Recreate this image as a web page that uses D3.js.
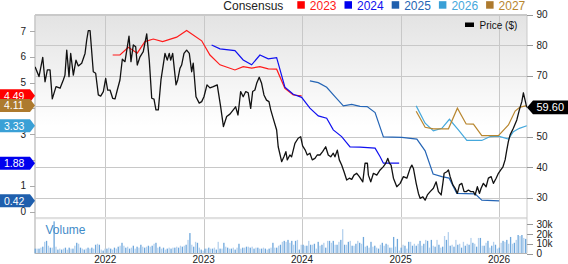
<!DOCTYPE html>
<html>
<head>
<meta charset="utf-8">
<script src="https://cdn.jsdelivr.net/npm/d3@7"></script>
<style>
  body { margin: 0; background: #fff; }
  svg { display: block; font-family: "Liberation Sans", Arial, sans-serif; }
</style>
</head>
<body>
<svg id="chart" width="568" height="264"></svg>
<script>
// ---- data (dates as decimal years, price in $, EPS in $/share, volume in thousands) ----
const price = [
  [2021.286,72.9],[2021.326,69.7],[2021.364,76.0],[2021.387,68.0],[2021.411,71.9],[2021.438,71.9],
  [2021.461,62.4],[2021.499,66.4],[2021.540,65.9],[2021.573,68.6],[2021.590,70.2],[2021.608,78.4],
  [2021.631,69.7],[2021.648,77.3],[2021.675,70.2],[2021.702,75.1],[2021.726,73.2],[2021.760,74.1],
  [2021.794,77.3],[2021.811,81.7],[2021.827,84.8],[2021.845,84.8],[2021.878,71.3],[2021.902,70.8],
  [2021.929,63.7],[2021.953,63.3],[2021.980,64.8],[2022.004,69.1],[2022.024,65.3],[2022.048,65.3],
  [2022.075,62.6],[2022.099,62.4],[2022.122,65.3],[2022.149,68.6],[2022.173,75.4],[2022.200,74.6],
  [2022.241,83.0],[2022.261,74.6],[2022.285,80.1],[2022.309,79.5],[2022.325,73.5],[2022.353,76.2],
  [2022.386,77.9],[2022.421,83.7],[2022.447,75.1],[2022.472,62.6],[2022.495,62.3],[2022.515,58.8],
  [2022.539,58.8],[2022.566,68.6],[2022.607,77.3],[2022.630,75.1],[2022.650,77.3],[2022.665,75.1],
  [2022.685,77.3],[2022.719,67.0],[2022.736,68.6],[2022.759,72.4],[2022.776,73.5],[2022.800,77.3],
  [2022.827,78.4],[2022.854,77.3],[2022.878,71.3],[2022.894,74.1],[2022.922,63.1],[2022.955,61.0],
  [2022.980,61.5],[2023.003,63.1],[2023.034,67.0],[2023.064,66.0],[2023.098,66.4],[2023.138,67.0],
  [2023.173,59.8],[2023.201,53.3],[2023.234,56.6],[2023.267,57.4],[2023.301,58.8],[2023.325,59.8],
  [2023.349,57.1],[2023.376,64.8],[2023.402,63.1],[2023.428,64.8],[2023.453,64.4],[2023.478,59.3],
  [2023.498,64.8],[2023.521,65.3],[2023.539,67.5],[2023.565,69.5],[2023.589,67.5],[2023.613,63.7],
  [2023.639,62.0],[2023.664,61.5],[2023.682,58.8],[2023.707,56.0],[2023.742,52.2],[2023.758,46.7],
  [2023.793,41.8],[2023.816,43.4],[2023.836,45.1],[2023.850,42.4],[2023.877,44.0],[2023.894,43.4],
  [2023.928,47.8],[2023.961,49.5],[2023.986,50.0],[2024.006,47.0],[2024.033,45.6],[2024.053,44.0],
  [2024.080,44.6],[2024.104,42.4],[2024.131,42.9],[2024.154,44.0],[2024.182,44.0],[2024.209,45.1],
  [2024.240,46.7],[2024.266,44.0],[2024.291,43.4],[2024.317,44.6],[2024.334,43.4],[2024.358,45.6],
  [2024.378,42.4],[2024.402,40.7],[2024.426,38.5],[2024.453,35.8],[2024.480,36.4],[2024.504,36.0],
  [2024.527,37.4],[2024.555,38.0],[2024.581,36.9],[2024.616,35.2],[2024.639,41.3],[2024.663,41.3],
  [2024.673,37.4],[2024.697,35.2],[2024.724,38.0],[2024.758,37.4],[2024.792,39.1],[2024.825,40.2],
  [2024.850,41.3],[2024.870,42.9],[2024.886,41.3],[2024.903,40.7],[2024.927,36.4],[2024.961,33.6],
  [2024.995,34.7],[2025.028,36.9],[2025.063,36.4],[2025.097,39.7],[2025.114,40.7],[2025.130,39.6],
  [2025.158,34.7],[2025.181,31.4],[2025.198,29.8],[2025.226,30.3],[2025.249,29.2],[2025.272,30.9],
  [2025.300,32.0],[2025.333,33.1],[2025.361,35.2],[2025.384,32.0],[2025.412,30.9],[2025.429,34.7],
  [2025.442,38.0],[2025.470,38.5],[2025.486,39.1],[2025.503,36.9],[2025.531,34.2],[2025.554,33.1],
  [2025.577,31.4],[2025.598,34.2],[2025.622,34.7],[2025.645,32.0],[2025.666,32.0],[2025.689,32.5],
  [2025.713,32.0],[2025.740,32.0],[2025.757,30.9],[2025.780,33.6],[2025.801,31.4],[2025.818,33.1],
  [2025.841,34.7],[2025.869,33.6],[2025.892,36.4],[2025.920,36.9],[2025.943,34.7],[2025.971,36.4],
  [2025.994,38.0],[2026.018,39.1],[2026.039,40.0],[2026.062,42.4],[2026.079,45.6],[2026.095,48.4],
  [2026.113,50.6],[2026.146,52.8],[2026.181,55.5],[2026.207,58.8],[2026.232,61.5],[2026.248,64.4],
  [2026.265,62.0],[2026.282,59.6]
];

const eps2023 = [
  [2022.075,6.07],[2022.149,6.07],[2022.234,6.37],[2022.325,6.14],[2022.403,6.59],[2022.488,6.69],
  [2022.583,6.59],[2022.726,6.76],[2022.827,7.02],[2022.980,6.62],[2023.064,6.07],[2023.166,5.69],
  [2023.318,5.49],[2023.402,5.62],[2023.488,5.56],[2023.572,5.62],[2023.657,5.53],[2023.742,5.52],
  [2023.826,4.78],[2023.911,4.52],[2023.996,4.49]
];
const eps2024 = [
  [2023.081,6.46],[2023.166,6.31],[2023.318,6.24],[2023.402,5.88],[2023.488,5.69],[2023.572,6.07],
  [2023.657,5.92],[2023.742,5.97],[2023.826,4.82],[2023.911,4.55],[2023.996,4.43],[2024.080,4.01],
  [2024.165,3.71],[2024.250,3.62],[2024.317,3.17],[2024.402,2.91],[2024.487,2.51],[2024.588,2.50],
  [2024.741,2.46],[2024.792,2.13],[2024.825,1.88],[2024.985,1.88]
];
const eps2025 = [
  [2024.080,5.07],[2024.165,5.00],[2024.250,4.82],[2024.334,4.46],[2024.419,4.10],[2024.504,4.16],
  [2024.588,4.08],[2024.660,4.07],[2024.741,3.84],[2024.825,2.90],[2025.012,2.88],[2025.165,2.81],
  [2025.249,2.36],[2025.330,1.46],[2025.419,1.36],[2025.493,1.30],[2025.571,0.71],[2025.757,0.69],
  [2025.825,0.45],[2026.001,0.42]
];
const eps2026 = [
  [2025.158,4.10],[2025.249,3.43],[2025.333,3.13],[2025.419,3.23],[2025.496,3.58],[2025.587,3.17],
  [2025.673,2.76],[2025.825,2.76],[2025.910,2.91],[2025.994,2.93],[2026.096,2.81],[2026.146,3.10],
  [2026.207,3.23],[2026.283,3.33]
];
const eps2027 = [
  [2025.158,3.89],[2025.249,3.27],[2025.333,3.21],[2025.486,3.21],[2025.577,4.01],[2025.666,3.40],
  [2025.740,3.39],[2025.825,2.95],[2025.994,2.95],[2026.096,3.36],[2026.164,3.90],[2026.214,4.05],
  [2026.283,4.11]
];

// weekly volume, thousands of shares, first week starting 2021-04-16
const volumeStart = "2021-04-16";
const volume = [
  5,5,5,6,7,12,13,8,6,6,33,7,4,5,4,5,6,4,6,5,5,8,11,10,6,5,4,5,6,5,6,5,9,10,9,4,3,5,
  5,6,5,4,6,5,7,8,11,8,6,7,5,6,8,5,7,6,9,7,6,7,8,7,8,10,11,6,7,5,6,4,5,6,5,
  6,6,7,6,8,7,8,9,14,21,9,7,12,
  11,6,4,3,5,5,6,5,5,6,4,12,5,5,11,7,6,5,5,6,4,6,10,5,6,6,7,7,6,7,
  5,6,6,5,5,6,5,4,5,6,11,6,6,8,9,12,13,12,14,11,13,9,13,14,4,
  9,9,8,8,13,9,9,10,5,12,8,9,11,6,13,13,11,13,9,9,12,14,25,9,9,12,13,8,8,10,13,11,10,
  17,7,8,6,12,7,8,6,5,9,11,8,10,9,6,6,17,7,15,3,6,9,8,5,12,12,8,10,8,10,
  13,8,10,14,13,6,14,8,7,14,9,6,7,18,14,22,8,9,7,14,9,10,6,12,8,10,9,16,11,10,
  7,16,16,8,8,11,13,6,8,12,9,5,6,11,13,12,14,10,17,10,11,14,19,18,19,16,15
];

const seriesNames = ["2023", "2024", "2025", "2026", "2027"];
const seriesData = [eps2023, eps2024, eps2025, eps2026, eps2027];
const seriesLast = [4.49, 1.88, 0.42, 3.33, 4.11];
const lastPrice = 59.60;

const yearTicks = [2022, 2023, 2024, 2025, 2026];
const priceTicks = [30, 40, 50, 60, 70, 80, 90];
const epsTicks = [0, 1, 2, 3, 4, 5, 6, 7];
const volumeTicks = [0, 10, 20, 30];

// ---- styles ----
const colors = ["#ff1a1a", "#1010f0", "#2565b5", "#45a8dc", "#b8862f"];
const badgeColors = ["#ff0000", "#0000ee", "#1f5fad", "#3aa0d6", "#ad7a2e"];

const plotLeft = 35, plotRight = 527, plotTop = 15, priceBottom = 217, volBottom = 253.5;
const badgeHalf = 6.5;

function yearToDate(t) {
  const y = Math.floor(t);
  const a = new Date(y, 0, 1), b = new Date(y + 1, 0, 1);
  return new Date(+a + (t - y) * (b - a));
}

const x = d3.scaleTime()
  .domain([new Date(2022, 0, 1), new Date(2026, 0, 1)])
  .range([105.3, 499]);
const yPrice = d3.scaleLinear().domain([30, 90]).range([197.7, 14.7]);
const yEps = d3.scaleLinear().domain([0, 7]).range([211.7, 31]);
const yVol = d3.scaleLinear().domain([0, 30]).range([volBottom, 224.3]);

// labels that sit fully under a badge are not drawn (they are hidden in the original)
const hiddenBy = (y, centers) => centers.some(c => Math.abs(c - y) < badgeHalf - 2);
const epsBadgeY = seriesLast.map(v => yEps(v));

const svg = d3.select("#chart");
const defs = svg.append("defs");

const grad = defs.append("linearGradient")
  .attr("id", "bg").attr("x1", 0).attr("y1", 0).attr("x2", 0).attr("y2", 1);
grad.append("stop").attr("offset", "0%").attr("stop-color", "#e3e3e3");
grad.append("stop").attr("offset", "55%").attr("stop-color", "#ffffff");

defs.append("clipPath").attr("id", "clipPrice")
  .append("rect").attr("x", plotLeft).attr("y", plotTop)
  .attr("width", plotRight - plotLeft).attr("height", priceBottom - plotTop);

// background
svg.append("rect").attr("x", plotLeft).attr("y", plotTop)
  .attr("width", plotRight - plotLeft).attr("height", priceBottom - plotTop)
  .attr("fill", "url(#bg)");

// horizontal grid (right price axis)
svg.append("g").selectAll("line")
  .data(priceTicks.slice(0, -1))
  .enter().append("line")
  .attr("x1", plotLeft).attr("x2", plotRight)
  .attr("y1", d => Math.round(yPrice(d)) + 0.5).attr("y2", d => Math.round(yPrice(d)) + 0.5)
  .attr("stroke", "#c8c8c8");

// vertical grid (years)
svg.append("g").selectAll("line")
  .data(yearTicks)
  .enter().append("line")
  .attr("x1", d => Math.round(x(new Date(d, 0, 1))) + 0.5)
  .attr("x2", d => Math.round(x(new Date(d, 0, 1))) + 0.5)
  .attr("y1", plotTop).attr("y2", volBottom)
  .attr("stroke", "#c8c8c8");

// panel separator and borders
svg.append("rect").attr("x", plotLeft).attr("y", priceBottom)
  .attr("width", plotRight - plotLeft).attr("height", 2.2)
  .attr("fill", "#e0e0e0");
svg.append("line").attr("x1", plotLeft).attr("x2", plotRight).attr("y1", plotTop).attr("y2", plotTop)
  .attr("stroke", "#c9c9c9").attr("stroke-width", 2);
svg.append("line").attr("x1", plotLeft).attr("x2", plotLeft).attr("y1", plotTop).attr("y2", volBottom)
  .attr("stroke", "#c9c9c9").attr("stroke-width", 1.6);
svg.append("line").attr("x1", plotRight).attr("x2", plotRight).attr("y1", plotTop).attr("y2", volBottom)
  .attr("stroke", "#c9c9c9");

// volume bars
const start = d3.timeParse("%Y-%m-%d")(volumeStart);
svg.append("g").selectAll("rect")
  .data(volume)
  .enter().append("rect")
  .attr("x", (d, i) => x(d3.timeDay.offset(start, 7 * i)) - 0.65)
  .attr("width", 1.3)
  .attr("y", d => yVol(d))
  .attr("height", d => volBottom - yVol(d))
  .attr("fill", (d, i) => i % 2 ? "#b5d1ee" : "#6ea7dc");

svg.append("line").attr("x1", plotLeft).attr("x2", plotRight).attr("y1", volBottom).attr("y2", volBottom)
  .attr("stroke", "#b4b4b4");

svg.append("text").attr("x", 45.5).attr("y", 233.5)
  .attr("font-size", 12).attr("fill", "#3f8bc9").text("Volume");

// consensus lines
const epsLine = d3.line().x(d => x(yearToDate(d[0]))).y(d => yEps(d[1]));
const plot = svg.append("g").attr("clip-path", "url(#clipPrice)");
seriesData.forEach((s, k) => {
  plot.append("path").datum(s)
    .attr("d", epsLine)
    .attr("fill", "none")
    .attr("stroke", colors[k])
    .attr("stroke-width", 1.2);
});

// price line
const priceLine = d3.line().x(d => x(yearToDate(d[0]))).y(d => yPrice(d[1]));
plot.append("path").datum(price)
  .attr("d", priceLine)
  .attr("fill", "none")
  .attr("stroke", "#111")
  .attr("stroke-width", 1.3)
  .attr("stroke-linejoin", "round");

// left axis (EPS)
const yl = svg.append("g").attr("font-size", 10).attr("fill", "#222");
yl.selectAll("line").data(epsTicks).enter().append("line")
  .attr("x1", 30).attr("x2", plotLeft)
  .attr("y1", d => Math.round(yEps(d)) + 0.5).attr("y2", d => Math.round(yEps(d)) + 0.5)
  .attr("stroke", "#aaa");
yl.selectAll("text").data(epsTicks.filter(d => !hiddenBy(yEps(d), epsBadgeY))).enter().append("text")
  .attr("x", 26).attr("y", d => yEps(d)).attr("dy", "0.36em")
  .attr("text-anchor", "end").text(d => d);

// right axis (price)
const yr = svg.append("g").attr("font-size", 10).attr("fill", "#222");
yr.selectAll("line").data(priceTicks).enter().append("line")
  .attr("x1", plotRight).attr("x2", 533)
  .attr("y1", d => Math.round(yPrice(d)) + 0.5).attr("y2", d => Math.round(yPrice(d)) + 0.5)
  .attr("stroke", "#999");
yr.selectAll("text").data(priceTicks.filter(d => !hiddenBy(yPrice(d), [yPrice(lastPrice)]))).enter().append("text")
  .attr("x", 536.5).attr("y", d => yPrice(d)).attr("dy", "0.36em")
  .text(d => d);

// right axis (volume)
const yv = svg.append("g").attr("font-size", 10).attr("fill", "#222");
yv.selectAll("line").data(volumeTicks).enter().append("line")
  .attr("x1", plotRight).attr("x2", 533)
  .attr("y1", d => Math.round(yVol(d)) + 0.5).attr("y2", d => Math.round(yVol(d)) + 0.5)
  .attr("stroke", "#999");
yv.selectAll("text").data(volumeTicks).enter().append("text")
  .attr("x", 536.5).attr("y", d => yVol(d)).attr("dy", "0.36em")
  .text(d => d === 0 ? "0" : d + "k");

// x axis labels
svg.append("g").attr("font-size", 10).attr("fill", "#222")
  .selectAll("text").data(yearTicks).enter().append("text")
  .attr("x", d => x(new Date(d, 0, 1)))
  .attr("y", 263)
  .attr("text-anchor", "middle")
  .text(d => d);

// left badges with the latest consensus values
seriesLast.forEach((v, k) => {
  const cy = yEps(v);
  const g = svg.append("g");
  g.append("path")
    .attr("d", `M0,${cy - badgeHalf}H30L35,${cy}L30,${cy + badgeHalf}H0Z`)
    .attr("fill", badgeColors[k]);
  g.append("text").attr("x", 4).attr("y", cy).attr("dy", "0.36em")
    .attr("font-size", 10.5).attr("fill", "#fff").text(v.toFixed(2));
});

// right price badge
{
  const cy = yPrice(lastPrice);
  svg.append("path")
    .attr("d", `M${plotRight},${cy}L533,${cy - 6.8}H568V${cy + 6.8}H533Z`)
    .attr("fill", "#000");
  svg.append("text").attr("x", 536.5).attr("y", cy).attr("dy", "0.36em")
    .attr("font-size", 11).attr("fill", "#fff").text(lastPrice.toFixed(2));
}

// top legend
const lg = svg.append("g").attr("font-size", 12);
lg.append("text").attr("x", 223.3).attr("y", 9.5).attr("fill", "#222").text("Consensus");
seriesNames.forEach((n, k) => {
  const x0 = 297.3 + k * 47.2;
  lg.append("rect").attr("x", x0).attr("y", 1.2).attr("width", 7.5).attr("height", 7.5)
    .attr("fill", badgeColors[k]);
  lg.append("text").attr("x", x0 + 12.5).attr("y", 9.5).attr("fill", colors[k]).text(n);
});

// price legend
svg.append("rect").attr("x", 465).attr("y", 22.5).attr("width", 9).attr("height", 4.5).attr("fill", "#000");
svg.append("text").attr("x", 479.5).attr("y", 29).attr("font-size", 10).attr("fill", "#111").text("Price ($)");
</script>
</body>
</html>
